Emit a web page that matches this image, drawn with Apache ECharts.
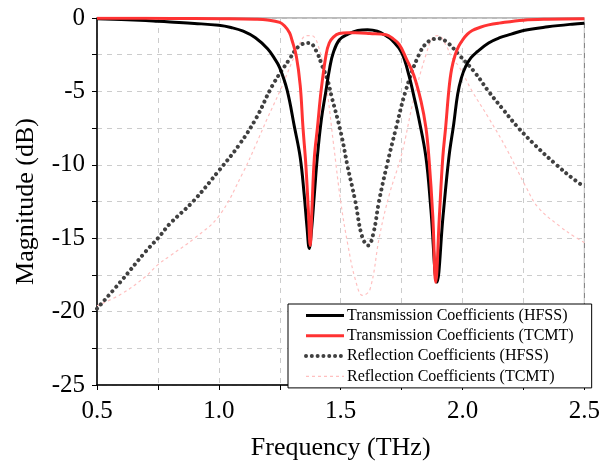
<!DOCTYPE html>
<html>
<head>
<meta charset="utf-8">
<title>Magnitude vs Frequency</title>
<script src="https://cdn.jsdelivr.net/npm/echarts@6/dist/echarts.min.js"></script>
<style>
	html, body { margin: 0; padding: 0; background: #fff; }
	#chart { width: 603px; height: 466px; }
</style>
</head>
<body>
<div id="chart"></div>
<script type="text/javascript">
// frequency (THz) / magnitude (dB)
var freqTH = [0.5, 0.6, 0.7, 0.75, 0.8, 0.9, 1.0, 1.05, 1.1, 1.15, 1.2, 1.23, 1.25, 1.28, 1.31, 1.334, 1.35, 1.362, 1.371, 1.38, 1.392, 1.404, 1.42, 1.44, 1.455, 1.469, 1.494, 1.53, 1.57, 1.61, 1.65, 1.69, 1.71, 1.75, 1.78, 1.8, 1.82, 1.85, 1.87, 1.895, 1.92, 1.944, 1.964, 1.98, 1.995, 2.013, 2.035, 2.06, 2.107, 2.15, 2.2, 2.25, 2.35, 2.45, 2.5];
var magTH  = [-0.05, -0.1, -0.17, -0.22, -0.27, -0.37, -0.5, -0.65, -0.9, -1.35, -2.1, -2.8, -3.4, -4.9, -7.4, -9.5, -12.0, -14.3, -15.7, -14.5, -12.0, -9.5, -7.0, -4.9, -3.4, -2.4, -1.5, -1.1, -0.85, -0.8, -0.9, -1.25, -1.5, -2.35, -3.9, -5.3, -6.8, -9.5, -13.0, -18.0, -13.5, -9.5, -7.2, -5.2, -4.1, -3.3, -2.7, -2.3, -1.7, -1.36, -1.1, -0.85, -0.6, -0.42, -0.36];

var freqTT = [0.5, 0.8, 1.0, 1.15, 1.2, 1.25, 1.27, 1.29, 1.3, 1.318, 1.334, 1.345, 1.357, 1.367, 1.375, 1.382, 1.392, 1.405, 1.42, 1.44, 1.453, 1.47, 1.494, 1.53, 1.56, 1.62, 1.686, 1.71, 1.74, 1.77, 1.8, 1.83, 1.85, 1.862, 1.878, 1.89, 1.905, 1.919, 1.931, 1.944, 1.955, 1.97, 1.985, 2.0, 2.02, 2.04, 2.07, 2.107, 2.15, 2.25, 2.35, 2.5];
var magTT  = [-0.02, -0.03, -0.05, -0.08, -0.13, -0.3, -0.55, -1.0, -1.5, -2.6, -4.6, -7.4, -10.0, -13.0, -15.5, -13.0, -9.5, -7.4, -4.9, -2.5, -1.7, -1.3, -1.05, -1.0, -1.0, -1.05, -1.14, -1.35, -1.8, -2.8, -3.9, -5.7, -7.5, -9.5, -13.5, -18.0, -13.5, -9.5, -7.4, -4.9, -3.5, -2.5, -1.9, -1.5, -1.1, -0.85, -0.65, -0.47, -0.35, -0.15, -0.08, -0.05];

var freqRH = [0.5, 0.6, 0.7, 0.75, 0.8, 0.894, 1.0, 1.085, 1.154, 1.22, 1.29, 1.33, 1.371, 1.4, 1.424, 1.445, 1.465, 1.486, 1.506, 1.527, 1.559, 1.588, 1.613, 1.635, 1.657, 1.69, 1.727, 1.766, 1.821, 1.86, 1.903, 1.94, 1.985, 2.05, 2.107, 2.17, 2.23, 2.3, 2.385, 2.45, 2.5];
var magRH  = [-19.8, -17.9, -15.9, -15.0, -14.0, -12.5, -10.4, -8.6, -6.8, -4.6, -2.8, -1.9, -1.7, -2.26, -3.26, -4.16, -5.5, -6.8, -8.2, -10.0, -12.4, -14.9, -15.5, -14.6, -12.5, -10.0, -7.5, -5.0, -2.5, -1.6, -1.4, -1.7, -2.5, -3.7, -5.0, -6.3, -7.5, -8.7, -10.0, -10.9, -11.5];

var freqRT = [0.5, 0.6, 0.7, 0.75, 0.8, 0.9, 1.0, 1.1, 1.15, 1.2, 1.25, 1.3, 1.33, 1.36, 1.38, 1.41, 1.44, 1.47, 1.5, 1.53, 1.56, 1.59, 1.62, 1.66, 1.7, 1.75, 1.8, 1.85, 1.88, 1.9, 1.93, 1.96, 1.985, 2.04, 2.107, 2.177, 2.26, 2.31, 2.4, 2.46, 2.5];
var magRT  = [-19.6, -18.8, -17.6, -16.8, -16.2, -15.0, -13.5, -10.5, -8.7, -6.8, -5.0, -3.0, -1.8, -1.2, -1.2, -2.0, -4.5, -8.5, -12.5, -15.5, -17.8, -18.9, -18.5, -14.8, -12.0, -9.3, -5.5, -2.5, -1.3, -1.2, -1.8, -2.8, -3.3, -5.0, -6.8, -8.8, -11.5, -12.9, -14.2, -14.9, -15.3];

var names = ['Transmission Coefficients (HFSS)', 'Transmission Coefficients (TCMT)', 'Reflection Coefficients (HFSS)', 'Reflection Coefficients (TCMT)'];

function pairs(xs, ys) {
	var out = [];
	for (var i = 0; i < xs.length; i++) out.push([xs[i], ys[i]]);
	return out;
}

var serif = 'Liberation Serif';
var myChart = echarts.init(document.getElementById('chart'));

var option = {
	animation: false,
	grid: { left: 97, right: 17, top: 18, bottom: 75, show: true, borderColor: '#777', borderWidth: 1 },
	legend: {
		data: [
			{ name: names[0], lineStyle: { width: 3 } },
			{ name: names[1], lineStyle: { width: 3 } },
			{ name: names[2], lineStyle: { width: 4 } },
			{ name: names[3], lineStyle: { width: 1.2 } }
		],
		orient: 'vertical',
		left: 288, top: 304,
		padding: [3, 18, 3, 16],
		itemWidth: 38, itemHeight: 14, itemGap: 3.3,
		backgroundColor: '#fff',
		borderColor: '#000', borderWidth: 1, borderRadius: 0,
		itemStyle: { opacity: 0 },
		textStyle: { fontFamily: serif, fontSize: 16, color: '#000', lineHeight: 17, padding: [0, 0, 0, -2] }
	},
	xAxis: {
		type: 'value', min: 0.5, max: 2.5, interval: 0.25,
		name: 'Frequency (THz)', nameLocation: 'middle', nameGap: 50,
		nameTextStyle: { fontFamily: serif, fontSize: 26, color: '#000' },
		axisLine: { onZero: false, lineStyle: { color: '#000', width: 1.5 } },
		axisTick: { show: true, length: 5, lineStyle: { color: '#000' } },
		axisLabel: {
			fontFamily: serif, fontSize: 25, color: '#000', margin: 14,
			formatter: function (v) { return Math.abs(v * 2 - Math.round(v * 2)) < 1e-6 ? v.toFixed(1) : ''; }
		},
		splitLine: { show: true, lineStyle: { color: '#cccccc', type: [5, 5], width: 1 } }
	},
	yAxis: {
		type: 'value', min: -25, max: 0, interval: 2.5,
		name: 'Magnitude (dB)', nameLocation: 'middle', nameGap: 58,
		nameTextStyle: { fontFamily: serif, fontSize: 26, color: '#000' },
		axisLine: { onZero: false, lineStyle: { color: '#000', width: 1.5 } },
		axisTick: { show: true, length: 5, lineStyle: { color: '#000' } },
		axisLabel: {
			fontFamily: serif, fontSize: 25, color: '#000', margin: 12,
			formatter: function (v) { return v % 5 === 0 ? String(v) : ''; }
		},
		splitLine: { show: true, lineStyle: { color: '#cccccc', type: [5, 5], width: 1 } }
	},
	series: [
		{
			name: names[3], type: 'line', symbol: 'none', smooth: 0.4,
			data: pairs(freqRT, magRT),
			lineStyle: { color: '#ffc0c0', width: 1.2, type: [3, 3] },
			itemStyle: { color: '#ffc0c0' }
		},
		{
			name: names[2], type: 'line', symbol: 'none', smooth: 0.4,
			data: pairs(freqRH, magRH),
			lineStyle: { color: '#404040', width: 4, type: [0.01, 5.8], cap: 'round' },
			itemStyle: { color: '#404040' }
		},
		{
			name: names[0], type: 'line', symbol: 'none', smooth: 0.4,
			data: pairs(freqTH, magTH),
			lineStyle: { color: '#000', width: 3 },
			itemStyle: { color: '#000' }
		},
		{
			name: names[1], type: 'line', symbol: 'none', smooth: 0.4,
			data: pairs(freqTT, magTT),
			lineStyle: { color: '#ff3333', width: 3 },
			itemStyle: { color: '#ff3333' }
		}
	]
};

myChart.setOption(option);
</script>
</body>
</html>
